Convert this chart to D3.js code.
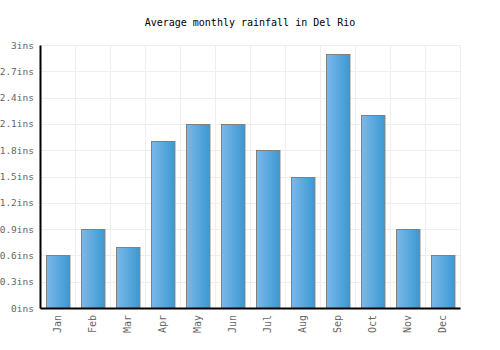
<!DOCTYPE html>
<html lang="en">
<head>
<meta charset="UTF-8">
<title>Average monthly rainfall in Del Rio</title>
<script src="https://d3js.org/d3.v7.min.js"></script>
<style>
    body { margin: 0; background: #fff; }
    text { font-family: "DejaVu Sans Mono", monospace; }
</style>
</head>
<body>
<div id="chart"></div>
<script>
    // data
    const months = ["Jan", "Feb", "Mar", "Apr", "May", "Jun", "Jul", "Aug", "Sep", "Oct", "Nov", "Dec"];
    const rainfall = [0.6, 0.9, 0.7, 1.9, 2.1, 2.1, 1.8, 1.5, 2.9, 2.2, 0.9, 0.6];
    const yTicks = [0, 0.3, 0.6, 0.9, 1.2, 1.5, 1.8, 2.1, 2.4, 2.7, 3];

    const width = 500, height = 350;
    const margin = { top: 45, right: 40, bottom: 42, left: 40 };

    const svg = d3.select("#chart").append("svg")
        .attr("width", width)
        .attr("height", height);

    const grad = svg.append("defs").append("linearGradient")
        .attr("id", "barGrad")
        .attr("x1", "0%").attr("x2", "100%")
        .attr("y1", "0%").attr("y2", "0%");
    grad.append("stop").attr("offset", "0%").attr("stop-color", "#7ab8ea");
    grad.append("stop").attr("offset", "100%").attr("stop-color", "#3b98d1");

    const x = d3.scaleBand()
        .domain(months)
        .range([margin.left, width - margin.right])
        .paddingInner(0.33)
        .paddingOuter(0.165);

    const y = d3.scaleLinear()
        .domain([0, 3])
        .range([height - margin.bottom, margin.top]);

    // title
    svg.append("text")
        .attr("x", width / 2)
        .attr("y", 26)
        .attr("text-anchor", "middle")
        .attr("font-size", 10)
        .attr("fill", "#000")
        .text("Average monthly rainfall in Del Rio");

    // grid
    const step = (width - margin.left - margin.right) / months.length;
    svg.append("g")
        .selectAll("line")
        .data(yTicks)
        .join("line")
        .attr("x1", margin.left)
        .attr("x2", width - margin.right)
        .attr("y1", d => Math.round(y(d)) + 0.5)
        .attr("y2", d => Math.round(y(d)) + 0.5)
        .attr("stroke", "#eeeeee");

    svg.append("g")
        .selectAll("line")
        .data(d3.range(months.length + 1))
        .join("line")
        .attr("x1", i => Math.round(margin.left + i * step) + 0.5)
        .attr("x2", i => Math.round(margin.left + i * step) + 0.5)
        .attr("y1", margin.top)
        .attr("y2", height - margin.bottom)
        .attr("stroke", "#eeeeee");

    // bars
    svg.append("g")
        .selectAll("rect")
        .data(rainfall)
        .join("rect")
        .attr("x", (d, i) => Math.round(x(months[i])) + 0.5)
        .attr("y", d => Math.round(y(d)) + 0.5)
        .attr("width", x.bandwidth())
        .attr("height", d => Math.round(y(0)) - Math.round(y(d)))
        .attr("fill", "url(#barGrad)")
        .attr("stroke", "#808080")
        .attr("stroke-width", 1);

    // y axis
    const yAxis = svg.append("g")
        .attr("transform", `translate(${margin.left},0)`)
        .call(d3.axisLeft(y).tickValues(yTicks).tickSize(0).tickPadding(6)
            .tickFormat(d => d + "ins"));
    yAxis.select(".domain").attr("stroke", "#000").attr("stroke-width", 2);
    yAxis.selectAll("text").attr("font-size", 9.5).attr("fill", "#666")
        .attr("font-family", "DejaVu Sans Mono, monospace");

    // x axis
    const xAxis = svg.append("g")
        .attr("transform", `translate(0,${height - margin.bottom})`)
        .call(d3.axisBottom(x).tickSize(0).tickPadding(6));
    xAxis.select(".domain").attr("stroke", "#000").attr("stroke-width", 2);
    xAxis.selectAll("text")
        .attr("font-size", 10)
        .attr("fill", "#666")
        .attr("font-family", "DejaVu Sans Mono, monospace")
        .attr("transform", "rotate(-90)")
        .attr("text-anchor", "end")
        .attr("dy", "0.35em")
        .attr("dx", 0)
        .attr("x", -7)
        .attr("y", 0);
</script>
</body>
</html>
